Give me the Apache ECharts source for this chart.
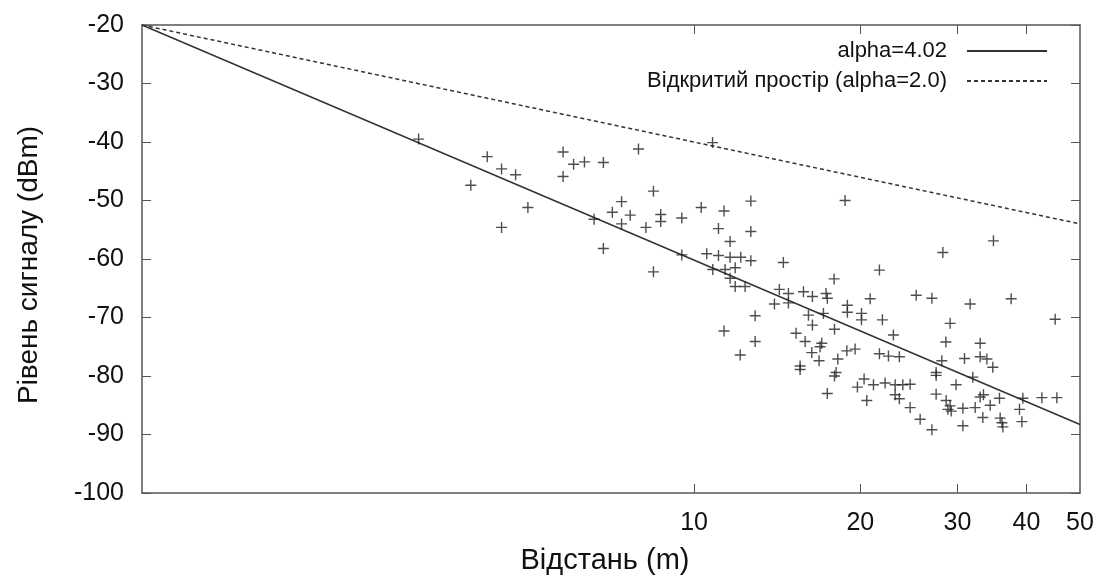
<!DOCTYPE html>
<html>
<head>
<meta charset="utf-8">
<script src="https://cdn.jsdelivr.net/npm/echarts@6/dist/echarts.min.js"></script>
<style>
  html, body { margin: 0; padding: 0; background: #fff; }
  #chart { width: 1100px; height: 581px; }
</style>
</head>
<body>
<div id="chart"></div>
<script>
// виміряні точки: відстань (m) та рівень сигналу (dBm)
const distance = [
  3.17, 3.94, 4.22, 4.48, 4.75, 5.0, 4.48, 5.79, 6.05, 6.33,
  5.79, 6.59, 6.85, 7.93, 10.8, 8.44, 7.39, 7.11, 7.66, 7.39,
  8.18, 8.70, 8.70, 9.50, 10.3, 11.33, 12.67, 11.07, 12.67, 11.62,
  6.85, 9.50, 10.54, 11.07, 11.62, 12.15, 12.67, 8.44, 10.81, 11.38,
  11.87, 11.62, 11.87, 12.37, 12.9, 11.33, 12.9, 12.12, 14.51, 18.77,
  17.93, 21.66, 28.22, 34.85, 14.27, 14.82, 15.78, 16.38, 17.34, 17.43,
  13.98, 14.82, 20.84, 25.25, 18.95, 18.95, 20.1, 20.1, 21.93, 16.11,
  17.15, 16.38, 17.96, 22.96, 15.3, 15.89, 17.03, 16.91, 16.34, 18.91,
  19.57, 18.21, 16.84, 15.56, 15.56, 21.66, 22.49, 23.54, 18.08, 17.96,
  20.32, 19.76, 21.13, 22.18, 23.13, 23.88, 24.62, 17.43, 20.55, 23.13,
  23.54, 24.62, 25.67, 26.96, 31.62, 37.52, 45.08, 29.09, 28.58, 32.97,
  32.97, 33.91, 34.76, 30.89, 28.1, 27.44, 27.44, 31.98, 29.82, 27.44,
  28.61, 29.09, 28.82, 29.22, 30.68, 32.29, 32.97, 33.43, 34.38, 35.74,
  38.85, 39.4, 42.65, 45.4, 33.34, 30.68, 35.84, 36.1, 36.25, 39.24,
  26.96
];
const signal = [
  -39.5, -47.4, -42.5, -44.6, -45.6, -51.2, -54.6, -41.7, -43.8, -43.4,
  -45.9, -53.2, -43.5, -41.2, -40.1, -48.4, -50.2, -52.0, -52.5, -54.0,
  -54.6, -52.4, -53.6, -53.0, -51.2, -51.8, -50.1, -54.8, -55.3, -57.0,
  -58.2, -59.3, -59.1, -59.4, -59.7, -59.7, -60.3, -62.2, -61.8, -61.8,
  -61.5, -63.3, -64.7, -64.7, -69.7, -72.3, -74.1, -76.4, -60.6, -50.0,
  -63.4, -61.9, -58.9, -56.9, -65.2, -65.9, -65.6, -66.4, -65.9, -66.7,
  -67.7, -67.5, -66.8, -66.2, -67.9, -69.1, -69.3, -70.4, -70.4, -69.6,
  -69.3, -71.3, -72.0, -73.0, -72.7, -74.1, -74.4, -75.0, -76.0, -75.7,
  -75.4, -77.1, -77.4, -78.3, -78.9, -76.2, -76.6, -76.7, -79.4, -80.0,
  -80.5, -81.9, -81.5, -81.2, -81.5, -81.5, -81.4, -83.0, -84.2, -83.2,
  -83.9, -85.4, -87.4, -66.7, -67.7, -66.8, -70.3, -71.0, -74.2, -74.4,
  -76.7, -77.1, -78.5, -77.0, -77.4, -79.4, -79.9, -80.2, -81.5, -83.1,
  -84.2, -85.1, -85.7, -86.0, -85.5, -85.4, -83.6, -83.2, -85.0, -83.8,
  -85.7, -83.8, -83.7, -83.7, -87.1, -88.5, -87.2, -88.0, -88.7, -87.8,
  -89.2
];

// модельні прямі (кінцеві точки)
const lineDistance = [1, 50];
const lineAlpha402 = [-20, -88.3];
const lineFreeSpace = [-20, -54.0];

const xTicks = [10, 20, 30, 40];
const xLabels = [10, 20, 30, 40, 50];

const seriesNames = ["alpha=4.02", "Відкритий простір (alpha=2.0)"];

const font = "'Liberation Sans', Arial, sans-serif";
const axisColor = "#555";
const textColor = "#111";

const chart = echarts.init(document.getElementById("chart"));

const zip = (xs, ys) => xs.map((x, i) => [x, ys[i]]);

const option = {
  animation: false,
  backgroundColor: "#fff",
  textStyle: { fontFamily: font },
  grid: { left: 142, right: 20, top: 25, bottom: 88 },
  legend: {
    data: seriesNames,
    orient: "vertical",
    align: "right",
    right: 47,
    top: 35,
    itemWidth: 80,
    itemHeight: 14,
    itemGap: 8,
    // прибираємо кружечок з іконки легенди
    itemStyle: { color: "transparent", borderColor: "transparent", borderWidth: 0 },
    textStyle: { fontSize: 22, lineHeight: 20, color: textColor, fontFamily: font, padding: [0, 15, 0, 0] },
    selectedMode: false
  },
  xAxis: [
    {
      type: "log",
      logBase: 10,
      min: 1,
      max: 50,
      name: "Відстань (m)",
      nameLocation: "middle",
      nameGap: 53,
      nameTextStyle: { fontSize: 29, color: textColor, fontFamily: font, padding: [0, 12, 0, 0] },
      axisLine: { onZero: false, lineStyle: { color: axisColor, width: 1.5 } },
      axisTick: { inside: true, length: 9, customValues: xTicks, lineStyle: { color: axisColor } },
      minorTick: { show: false },
      axisLabel: { customValues: xLabels, fontSize: 25, margin: 18, color: textColor, fontFamily: font },
      splitLine: { show: false }
    },
    {
      type: "log",
      logBase: 10,
      min: 1,
      max: 50,
      position: "top",
      axisLine: { onZero: false, lineStyle: { color: axisColor, width: 1.5 } },
      axisTick: { inside: true, length: 9, customValues: xTicks, lineStyle: { color: axisColor } },
      axisLabel: { show: false },
      splitLine: { show: false }
    }
  ],
  yAxis: [
    {
      type: "value",
      min: -100,
      max: -20,
      interval: 10,
      name: "Рівень сигналу (dBm)",
      nameLocation: "middle",
      nameGap: 99,
      nameTextStyle: { fontSize: 28, color: textColor, fontFamily: font, padding: [0, 12, 0, 0] },
      axisLine: { show: true, onZero: false, lineStyle: { color: axisColor, width: 1.5 } },
      axisTick: { show: true, inside: true, length: 9, lineStyle: { color: axisColor } },
      axisLabel: { fontSize: 25, margin: 18, color: textColor, fontFamily: font },
      splitLine: { show: false }
    },
    {
      type: "value",
      min: -100,
      max: -20,
      interval: 10,
      position: "right",
      axisLine: { show: true, onZero: false, lineStyle: { color: axisColor, width: 1.5 } },
      axisTick: { show: true, inside: true, length: 9, lineStyle: { color: axisColor } },
      axisLabel: { show: false },
      splitLine: { show: false }
    }
  ],
  series: [
    {
      name: seriesNames[0],
      type: "line",
      symbol: "none",
      data: zip(lineDistance, lineAlpha402),
      lineStyle: { color: "#333", width: 1.5 },
      itemStyle: { color: "#333" }
    },
    {
      name: seriesNames[1],
      type: "line",
      symbol: "none",
      data: zip(lineDistance, lineFreeSpace),
      lineStyle: { color: "#333", width: 1.5, type: [4, 3] },
      itemStyle: { color: "#333" }
    },
    {
      name: "measured",
      type: "scatter",
      symbol: "path://M0,5L10,5M5,0L5,10",
      symbolSize: 11,
      data: zip(distance, signal),
      itemStyle: { color: "transparent", borderColor: "#222", borderWidth: 1.4 },
      z: 3
    }
  ]
};

chart.setOption(option);
</script>
</body>
</html>
